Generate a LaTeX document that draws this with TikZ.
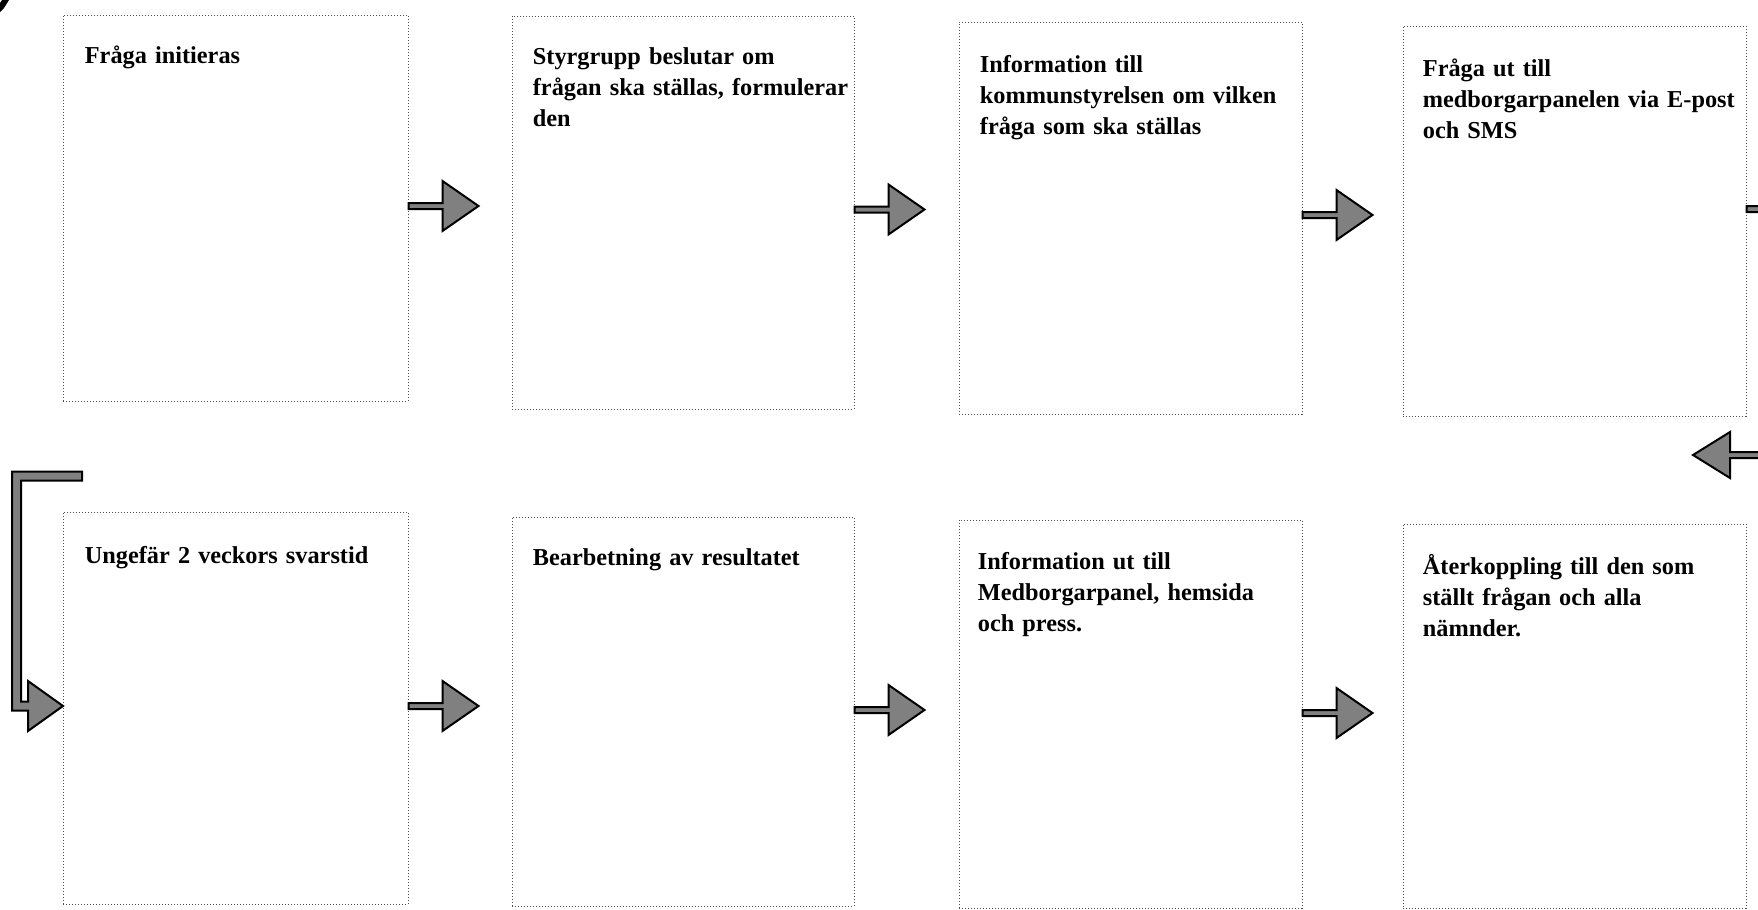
\documentclass[tikz,border=0pt]{standalone}
\usepackage{fontspec}
\setmainfont{Liberation Serif}
\usetikzlibrary{fit}
\tikzset{
  box/.style={draw=black!70, line width=0.5pt, dash pattern=on 0.5pt off 1pt, inner sep=0pt, fill=none},
  txt/.style={anchor=base west, inner sep=0pt, text width=170pt, align=left,
              font=\bfseries\fontsize{12.15}{15.5}\selectfont},
  barrow/.style={draw=black, line width=1pt, fill=black!50, line join=miter},
}
\begin{document}
\begin{tikzpicture}[x=0.5pt,y=-0.5pt]
\useasboundingbox (0,0) rectangle (1758,910);
\clip (0,0) rectangle (1758,910);

% boxes
\node[box, fit={(63,15) (408,401)}] (b1) {};
\node[box, fit={(512,16) (854,409)}] (b2) {};
\node[box, fit={(959,22) (1302,414)}] (b3) {};
\node[box, fit={(1403,26) (1746,416)}] (b4) {};
\node[box, fit={(63,512) (408,904)}] (b5) {};
\node[box, fit={(512,517) (854,906)}] (b6) {};
\node[box, fit={(959,520) (1302,908)}] (b7) {};
\node[box, fit={(1403,524) (1746,908)}] (b8) {};

% texts
\node[txt] (t1) at ([shift={(22,49)}]b1.north west) {Fråga initieras};
\node[txt] (t2) at ([shift={(21,49)}]b2.north west) {Styrgrupp beslutar om\\frågan ska ställas, formulerar\\den};
\node[txt] (t3) at ([shift={(21,51)}]b3.north west) {Information till\\kommunstyrelsen om vilken\\fråga som ska ställas};
\node[txt] (t4) at ([shift={(20,51)}]b4.north west) {Fråga ut till\\medborgarpanelen via E-post\\och SMS};
\node[txt] (t5) at ([shift={(22,52)}]b5.north west) {Ungefär 2 veckors svarstid};
\node[txt] (t6) at ([shift={(21,49)}]b6.north west) {Bearbetning av resultatet};
\node[txt] (t7) at ([shift={(19,50)}]b7.north west) {Information ut till\\Medborgarpanel, hemsida\\och press.};
\node[txt] (t8) at ([shift={(20,51)}]b8.north west) {Återkoppling till den som\\ställt frågan och alla\\nämnder.};

% right-pointing block arrows
\draw[barrow] ([shift={(0,-2)}]b1.east) ++(0,-3) -- ++(34,0) -- ++(0,-22) -- ++(36,25) -- ++(-36,25) -- ++(0,-22) -- ++(-34,0) -- cycle;
\draw[barrow] ([shift={(0,-3)}]b2.east) ++(0,-3) -- ++(34,0) -- ++(0,-22) -- ++(36,25) -- ++(-36,25) -- ++(0,-22) -- ++(-34,0) -- cycle;
\draw[barrow] ([shift={(0,-3)}]b3.east) ++(0,-3) -- ++(34,0) -- ++(0,-22) -- ++(36,25) -- ++(-36,25) -- ++(0,-22) -- ++(-34,0) -- cycle;
\draw[barrow] ([shift={(0,-12)}]b4.east) ++(0,-3) -- ++(34,0) -- ++(0,-22) -- ++(36,25) -- ++(-36,25) -- ++(0,-22) -- ++(-34,0) -- cycle;
\draw[barrow] ([shift={(0,-2)}]b5.east) ++(0,-3) -- ++(34,0) -- ++(0,-22) -- ++(36,25) -- ++(-36,25) -- ++(0,-22) -- ++(-34,0) -- cycle;
\draw[barrow] ([shift={(0,-1.5)}]b6.east) ++(0,-3) -- ++(34,0) -- ++(0,-22) -- ++(36,25) -- ++(-36,25) -- ++(0,-22) -- ++(-34,0) -- cycle;
\draw[barrow] ([shift={(0,-1)}]b7.east) ++(0,-3) -- ++(34,0) -- ++(0,-22) -- ++(36,25) -- ++(-36,25) -- ++(0,-22) -- ++(-34,0) -- cycle;

% left-pointing arrow at right edge
\coordinate (rin) at (1693,455);
\draw[barrow] (rin) -- ++(37,-23) -- ++(0,20) -- ++(60,0) -- ++(0,6) -- ++(-60,0) -- ++(0,20) -- cycle;

% elbow connector into b5
\coordinate (e0) at (82,476);
\draw[barrow] (e0) ++(0,-4.5) -- ++(-70,0) -- ++(0,239) -- ++(16,0) -- ++(0,20.5) -- ++(35,-25) -- ++(-35,-25) -- ++(0,20.5) -- ++(-7,0) -- ++(0,-221) -- ++(61,0) -- cycle;

% small mark in the top-left corner
\fill[black] (2,0) -- (9,0) -- (4,8) -- (0,12) -- (0,3) -- cycle;
\end{tikzpicture}
\end{document}
